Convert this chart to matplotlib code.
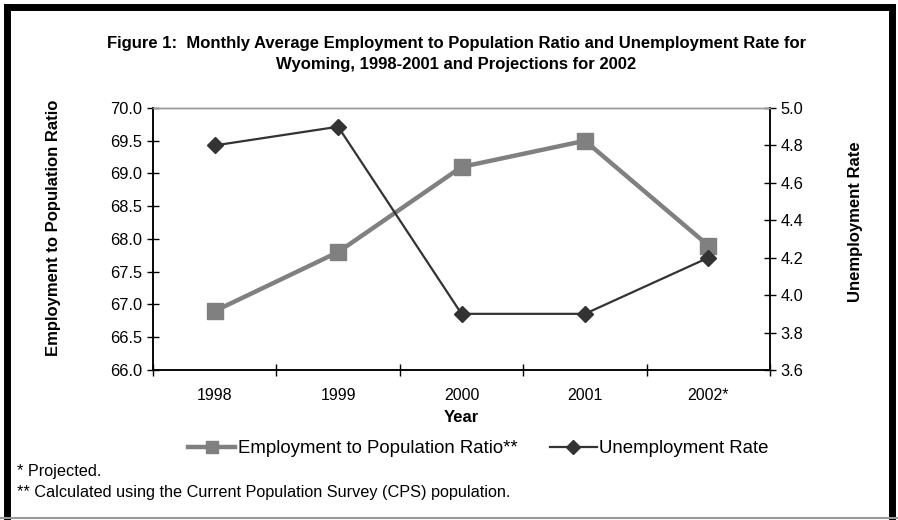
import matplotlib
matplotlib.use("Agg")
import matplotlib.pyplot as plt
from matplotlib.lines import Line2D

plt.rcParams["font.family"] = ["Liberation Sans", "DejaVu Sans"]

# Daten
years = ["1998", "1999", "2000", "2001", "2002*"]
emp_ratio = [66.9, 67.8, 69.1, 69.5, 67.9]
unemp_rate = [4.8, 4.9, 3.9, 3.9, 4.2]

left_ticks = [66.0, 66.5, 67.0, 67.5, 68.0, 68.5, 69.0, 69.5, 70.0]
right_ticks = [3.6, 3.8, 4.0, 4.2, 4.4, 4.6, 4.8, 5.0]

emp_color = "#808080"
unemp_color = "#333333"

fig = plt.figure(figsize=(8.98, 5.2), dpi=100)
ax = fig.add_axes([0.1704, 0.2885, 0.6871, 0.5038])
ax2 = ax.twinx()

x = list(range(len(years)))
ax.plot(x, emp_ratio, color=emp_color, lw=3.2, marker="s", ms=11,
        mfc=emp_color, mec=emp_color, zorder=3)
ax2.plot(x, unemp_rate, color=unemp_color, lw=1.6, marker="D", ms=8,
         mfc=unemp_color, mec=unemp_color, zorder=3)

ax.set_xlim(-0.5, len(years) - 0.5)
ax.set_ylim(66.0, 70.0)
ax2.set_ylim(3.6, 5.0)
ax.set_yticks(left_ticks)
ax.set_yticklabels([f"{v:.1f}" for v in left_ticks])
ax2.set_yticks(right_ticks)
ax2.set_yticklabels([f"{v:.1f}" for v in right_ticks])

# Kategorien: Beschriftung mittig, Striche an den Grenzen
ax.set_xticks(x)
ax.set_xticklabels(years)
ax.set_xticks([i - 0.5 for i in range(len(years) + 1)], minor=True)
ax.tick_params(axis="x", which="major", length=0, labelsize=11.5, pad=13)
ax.tick_params(axis="x", which="minor", direction="inout", length=8, width=1)
ax.tick_params(axis="y", direction="inout", length=8, width=1, labelsize=11.8)
ax2.tick_params(axis="y", direction="inout", length=8, width=1, labelsize=11.8)

for a in (ax, ax2):
    for side in ("left", "right", "bottom"):
        a.spines[side].set_color("black")
        a.spines[side].set_linewidth(1.1)
    a.spines["top"].set_color("#999999")
    a.spines["top"].set_linewidth(1.0)

ax.set_xlabel("Year", fontsize=12, fontweight="bold", labelpad=5)
ax.set_ylabel("Employment to Population Ratio", fontsize=12, fontweight="bold", va="center")
ax.yaxis.set_label_coords(-0.162, 0.542)
ax2.set_ylabel("Unemployment Rate", fontsize=12, fontweight="bold", va="center")
ax2.yaxis.set_label_coords(1.138, 0.565)

fig.text(0.508, 0.896, "Figure 1:  Monthly Average Employment to Population Ratio and Unemployment Rate for\n"
         "Wyoming, 1998-2001 and Projections for 2002",
         ha="center", va="center", fontsize=12, fontweight="bold", linespacing=1.55)

handles = [
    Line2D([], [], color=emp_color, lw=3.2, marker="s", ms=9),
    Line2D([], [], color=unemp_color, lw=1.6, marker="D", ms=7),
]
fig.legend(handles, ["Employment to Population Ratio**", "Unemployment Rate"],
           loc="center", bbox_to_anchor=(0.533, 0.137), ncol=2, frameon=False,
           fontsize=13.4, handlelength=2.5, handletextpad=0.15, columnspacing=1.75)

fig.text(0.019, 0.094, "* Projected.", fontsize=11.7, va="center")
fig.text(0.019, 0.052, "** Calculated using the Current Population Survey (CPS) population.",
         fontsize=11.7, va="center")

# Rahmen um die ganze Abbildung
fr = dict(color="black", lw=5, solid_capstyle="projecting", transform=fig.transFigure)
fig.add_artist(Line2D([0.0078, 0.0078], [0.005, 0.987], **fr))
fig.add_artist(Line2D([0.0078, 0.9935], [0.987, 0.987], **fr))
fig.add_artist(Line2D([0.9935, 0.9935], [0.005, 0.987], **fr))
fig.add_artist(Line2D([0.0, 1.0], [0.003, 0.003], color="#999999", lw=1.5,
                      transform=fig.transFigure))

fig.savefig("out.png", dpi=100)
